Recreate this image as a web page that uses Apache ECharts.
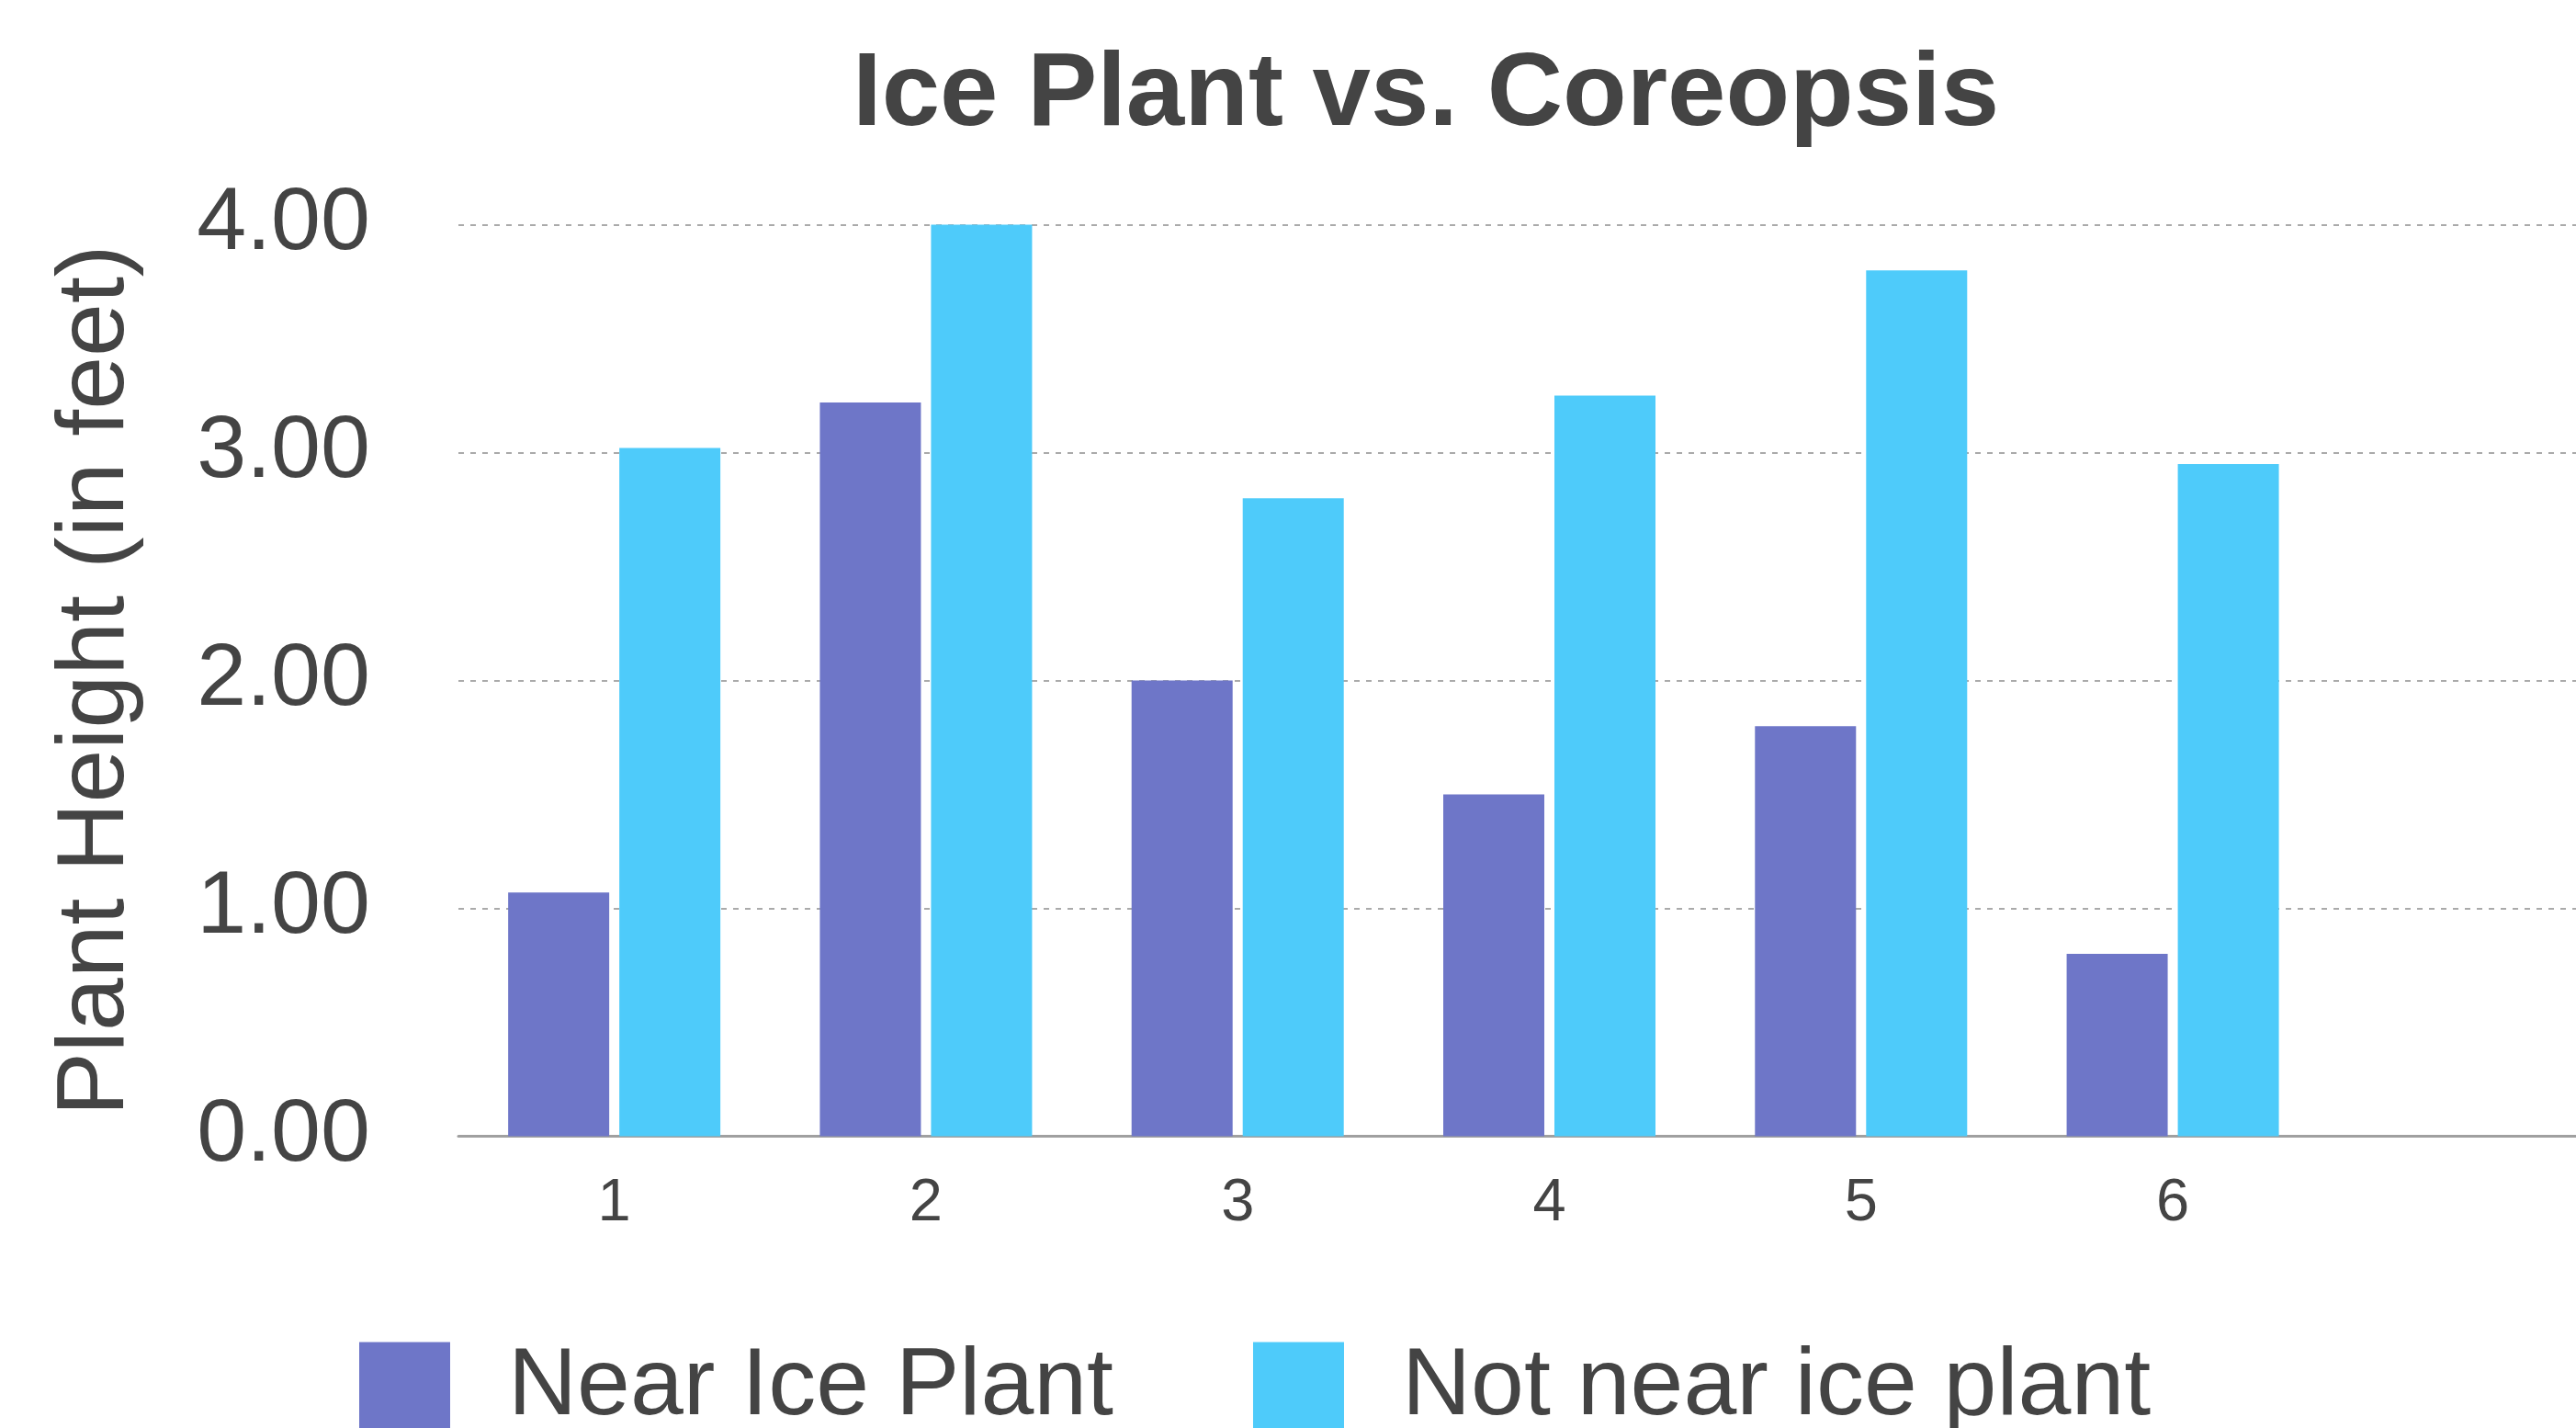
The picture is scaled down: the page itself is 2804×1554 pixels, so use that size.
<!DOCTYPE html>
<html>
<head>
<meta charset="utf-8">
<script src="https://cdn.jsdelivr.net/npm/echarts@6/dist/echarts.min.js"></script>
<style>
html,body{margin:0;padding:0;background:#fff;}
#chart{width:2804px;height:1554px;}
</style>
</head>
<body>
<div id="chart"></div>
<script>
const categories = ['1', '2', '3', '4', '5', '6', ''];
const nearIcePlant = [1.07, 3.22, 2.0, 1.5, 1.8, 0.8];
const notNearIcePlant = [3.02, 4.0, 2.8, 3.25, 3.8, 2.95];
const seriesNames = ['Near Ice Plant', 'Not near ice plant'];
const yTicks = [0, 1, 2, 3, 4];

const FONT = '"Liberation Sans", Arial, Helvetica, sans-serif';
const chart = echarts.init(document.getElementById('chart'), null, {renderer: 'canvas'});
chart.setOption({
  animation: false,
  backgroundColor: '#ffffff',
  title: {
    text: 'Ice Plant vs. Coreopsis',
    left: 928,
    top: 48,
    padding: 0,
    textStyle: {fontFamily: FONT, fontSize: 114, fontWeight: 'bold', color: '#444444'}
  },
  legend: {
    left: 391,
    top: 1458,
    padding: 0,
    itemWidth: 99,
    itemHeight: 99,
    itemGap: 152,
    icon: 'rect',
    textStyle: {fontFamily: FONT, fontSize: 104, color: '#444444', padding: [0, 0, 0, 58]},
    data: seriesNames
  },
  grid: {left: 499, top: 244.6, width: 2375, bottom: 317.5, containLabel: false, outerBoundsMode: 'none'},
  xAxis: {
    type: 'category',
    data: categories,
    axisLine: {show: true, lineStyle: {color: '#a0a0a0', width: 3}},
    axisTick: {show: false},
    axisLabel: {fontFamily: FONT, fontSize: 65, color: '#444444', margin: 41},
    splitLine: {show: false}
  },
  yAxis: {
    type: 'value',
    min: yTicks[0],
    max: yTicks[yTicks.length - 1],
    interval: 1,
    name: 'Plant Height (in feet)',
    nameLocation: 'middle',
    nameGap: 342,
    nameTextStyle: {fontFamily: FONT, fontSize: 104, color: '#444444'},
    axisLine: {show: false},
    axisTick: {show: false},
    axisLabel: {fontFamily: FONT, fontSize: 97, color: '#444444', margin: 96,
      formatter: v => v.toFixed(2)},
    splitLine: {show: true, lineStyle: {color: '#aaaaaa', width: 2, type: [6, 7]}}
  },
  series: [
    {name: seriesNames[0], type: 'bar', data: nearIcePlant, barWidth: 110, barGap: '10%',
     itemStyle: {color: '#6E76C8'}},
    {name: seriesNames[1], type: 'bar', data: notNearIcePlant, barWidth: 110, barGap: '10%',
     itemStyle: {color: '#4ECBFA'}}
  ]
});
</script>
</body>
</html>
